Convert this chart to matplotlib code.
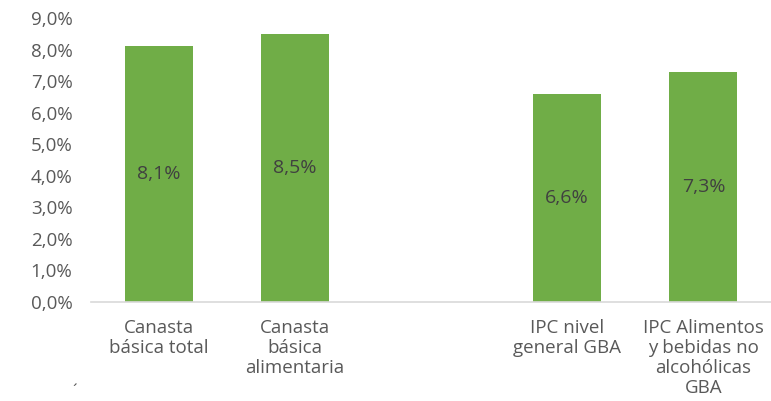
import matplotlib
matplotlib.use("Agg")
import matplotlib.pyplot as plt
from matplotlib.ticker import FuncFormatter

categories = ["Canasta\nbásica total", "Canasta\nbásica\nalimentaria", "",
              "IPC nivel\ngeneral GBA", "IPC Alimentos\ny bebidas no\nalcohólicas\nGBA"]
values = [8.1, 8.5, None, 6.6, 7.3]
value_labels = ["8,1%", "8,5%", "", "6,6%", "7,3%"]
yticks = [0, 1, 2, 3, 4, 5, 6, 7, 8, 9]

plt.rcParams['font.family'] = ['Open Sans', 'DejaVu Sans']
W, H = 771, 401
fig = plt.figure(figsize=(W / 100, H / 100), dpi=100)
ax = fig.add_axes([90.5 / W, 1 - 302 / H, (771.5 - 90.5) / W, (302 - 18) / H])

green = "#70AD47"
xs = list(range(len(categories)))
for x, v, lab in zip(xs, values, value_labels):
    if v is None:
        continue
    ax.bar(x, v, width=0.5, color=green, zorder=2)
    ax.text(x, v / 2, lab, ha="center", va="center", fontsize=14, color="#404040", zorder=3)

ax.set_xlim(-0.5, len(categories) - 0.5)
ax.set_ylim(0, 9)
ax.set_yticks(yticks)
ax.yaxis.set_major_formatter(FuncFormatter(lambda v, p: f"{v:.1f}".replace(".", ",") + "%"))
ax.set_xticks(xs)
ax.set_xticklabels(categories, fontsize=13.5, color="#595959", linespacing=1.15)
ax.tick_params(axis="y", labelsize=13.5, labelcolor="#595959", length=0, pad=13)
ax.tick_params(axis="x", length=0, pad=12)
for s in ["top", "right", "left"]:
    ax.spines[s].set_visible(False)
ax.spines["bottom"].set_color("#D9D9D9")
ax.spines["bottom"].set_linewidth(1.2)

fig.text(75 / W, 1 - 392 / H, "´", fontsize=12, color="#595959", ha="center", va="center")

fig.savefig("out.png", dpi=100)
